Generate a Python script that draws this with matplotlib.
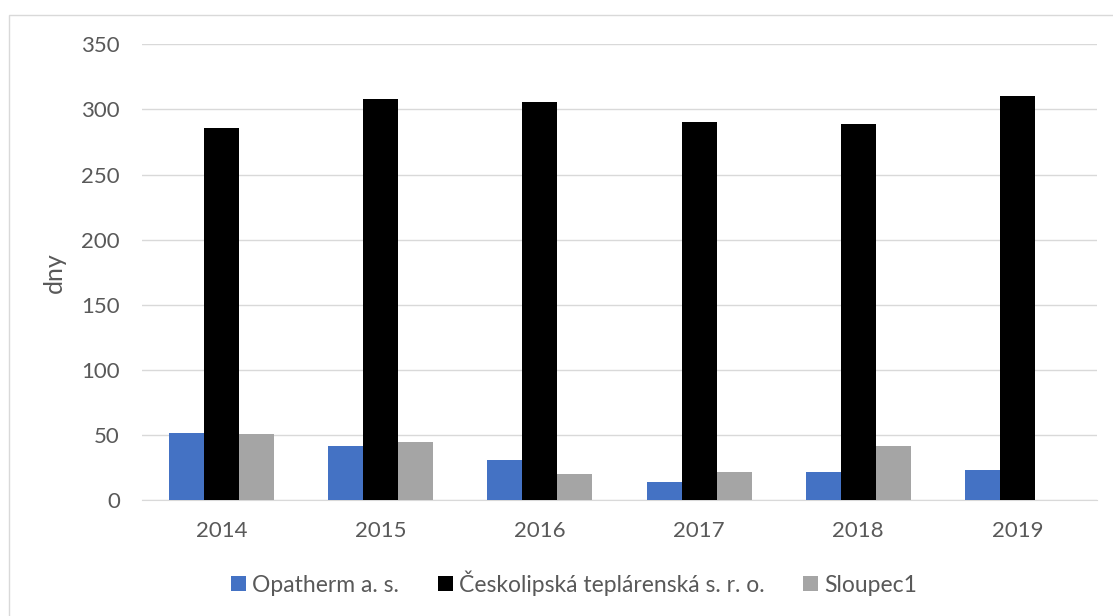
import matplotlib
matplotlib.use("Agg")
import matplotlib.pyplot as plt
import numpy as np
from matplotlib.patches import Rectangle, Patch

years = ["2014", "2015", "2016", "2017", "2018", "2019"]
opatherm = [52, 42, 31, 14, 22, 23]
ceskolipska = [286, 308, 306, 290, 289, 310]
sloupec1 = [51, 45, 20, 22, 42, 0]
series_names = ["Opatherm a. s.", "Českolipská teplárenská s. r. o.", "Sloupec1"]
colors = ["#4472C4", "#000000", "#A5A5A5"]

plt.rcParams['font.family'] = ['Lato', 'DejaVu Sans']

W, H = 1113, 616
fig = plt.figure(figsize=(W / 100, H / 100), dpi=100)
fig.patch.set_facecolor("white")

# outer chart border (only left and top edges are inside the image)
fig.add_artist(Rectangle((9 / W, -20 / H), (1140 - 9) / W, (636 - 15) / H,
                         transform=fig.transFigure, fill=False,
                         edgecolor="#D9D9D9", linewidth=1.0, clip_on=False))

ax = fig.add_axes([142 / W, 1 - 500.3 / H, (1097 - 142) / W, (500.3 - 44.3) / H])
x = np.arange(len(years))
bw = 0.22
for i, (vals, c) in enumerate(zip([opatherm, ceskolipska, sloupec1], colors)):
    ax.bar(x + (i - 1) * bw, vals, bw, color=c, linewidth=0, zorder=3)

ax.set_xlim(-0.5, len(years) - 0.5)
ax.set_ylim(0, 350)
ax.set_yticks(np.arange(0, 351, 50))
ax.set_xticks(x)
ax.set_xticklabels(years)
ax.yaxis.grid(True, color="#D9D9D9", linewidth=1.0, zorder=0)
ax.set_axisbelow(True)
for s in ["top", "right", "left"]:
    ax.spines[s].set_visible(False)
ax.spines["bottom"].set_color("#D9D9D9")
ax.tick_params(axis="both", length=0, labelsize=16, colors="#595959")
ax.tick_params(axis="x", pad=15)
ax.tick_params(axis="y", pad=16)
ax.set_ylabel("dny", fontsize=18, color="#595959", labelpad=11)

handles = [Patch(facecolor=c, edgecolor="none") for c in colors]
fig.legend(handles, series_names, loc="center", bbox_to_anchor=(574 / W, 1 - 583 / H),
           ncol=3, frameon=False, fontsize=16.5, labelcolor="#595959",
           handlelength=0.65, handleheight=0.65, handletextpad=0.25, columnspacing=1.7)

fig.savefig("out.png", dpi=100, facecolor="white")
